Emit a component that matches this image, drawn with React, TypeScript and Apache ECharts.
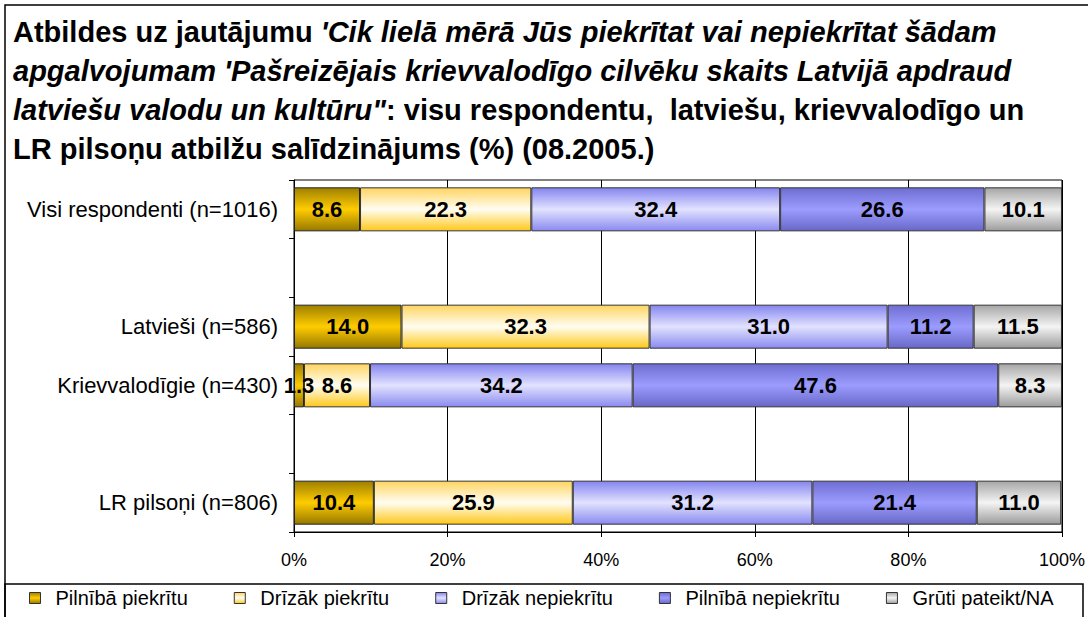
import React, { useEffect, useRef } from "react";
import * as echarts from "echarts";

const categories = [
  "Visi respondenti (n=1016)",
  " ",
  "Latvieši (n=586)",
  "Krievvalodīgie (n=430)",
  "  ",
  "LR pilsoņi (n=806)",
];

const seriesNames = [
  "Pilnībā piekrītu",
  "Drīzāk piekrītu",
  "Drīzāk nepiekrītu",
  "Pilnībā nepiekrītu",
  "Grūti pateikt/NA",
];

const fullyAgree = [8.6, null, 14.0, 1.3, null, 10.4];
const ratherAgree = [22.3, null, 32.3, 8.6, null, 25.9];
const ratherDisagree = [32.4, null, 31.0, 34.2, null, 31.2];
const fullyDisagree = [26.6, null, 11.2, 47.6, null, 21.4];
const hardToSay = [10.1, null, 11.5, 8.3, null, 11.0];

const xTicks = [0, 20, 40, 60, 80, 100];

const grad = (a: string, m: string, b: string) =>
  new echarts.graphic.LinearGradient(0, 0, 0, 1, [
    { offset: 0, color: a },
    { offset: 0.5, color: m },
    { offset: 1, color: b },
  ]);

const fills = [
  grad("#9E8000", "#FFCC00", "#967800"),
  grad("#FFD560", "#FFFDF2", "#FFC81A"),
  grad("#8585F0", "#E2E2FF", "#8A8AF0"),
  grad("#6E6ED2", "#9C9CFF", "#6868C8"),
  grad("#A6A6A6", "#F4F4F4", "#9C9C9C"),
];

const allData = [fullyAgree, ratherAgree, ratherDisagree, fullyDisagree, hardToSay];

export default function App() {
  const ref = useRef<HTMLDivElement>(null);
  useEffect(() => {
    if (!ref.current) return;
    const chart = echarts.init(ref.current, null, { renderer: "svg" });
    const font = "'Liberation Sans', Arial, sans-serif";
    const tfs = 29;
    chart.setOption({
      animation: false,
      backgroundColor: "#fff",
      textStyle: { fontFamily: font },
      title: {
        left: 13,
        top: 12,
        padding: 0,
        text:
          "{b|Atbildes uz jautājumu }{bi|'Cik lielā mērā Jūs piekrītat vai nepiekrītat šādam}\n" +
          "{bi|apgalvojumam 'Pašreizējais krievvalodīgo cilvēku skaits Latvijā apdraud}\n" +
          "{bi|latviešu valodu un kultūru\"}{b|: visu respondentu,  latviešu, krievvalodīgo un}\n" +
          "{b|LR pilsoņu atbilžu salīdzinājums (%) (08.2005.)}",
        textStyle: {
          rich: {
            b: { fontFamily: font, fontSize: tfs, fontWeight: "bold", color: "#000", lineHeight: 39 },
            bi: { fontFamily: font, fontSize: tfs, fontWeight: "bold", fontStyle: "italic", color: "#000", lineHeight: 39 },
          },
        },
      },
      grid: {
        left: 294,
        top: 180,
        width: 773,
        height: 352,
        show: true,
        borderColor: "#000",
        borderWidth: 1,
        backgroundColor: "#fff",
      },
      legend: {
        left: 29,
        top: 588,
        padding: 0,
        icon: "rect",
        itemWidth: 11,
        itemHeight: 11,
        itemGap: 46,
        itemStyle: { borderColor: "#333", borderWidth: 1 },
        textStyle: { fontFamily: font, fontSize: 20, color: "#000", padding: [0, 0, 0, 10] },
        data: seriesNames,
      },
      xAxis: {
        type: "value",
        min: 0,
        max: 100,
        interval: 20,
        axisLine: { show: true, lineStyle: { color: "#000", width: 1 } },
        axisTick: { show: true, length: 5, lineStyle: { color: "#000" } },
        splitLine: { show: true, lineStyle: { color: "#000", width: 1 } },
        axisLabel: {
          fontFamily: font,
          fontSize: 18,
          color: "#000",
          margin: 19,
          formatter: (v: number) => (xTicks.includes(v) ? v + "%" : ""),
        },
      },
      yAxis: {
        type: "category",
        inverse: true,
        data: categories,
        axisLine: { show: true, lineStyle: { color: "#000", width: 1 } },
        axisTick: { show: true, length: 5, lineStyle: { color: "#000" } },
        axisLabel: { fontFamily: font, fontSize: 22, color: "#000", margin: 16 },
      },
      series: allData.map((d, i) => ({
        name: seriesNames[i],
        type: "bar",
        stack: "total",
        barWidth: 44,
        data: d,
        itemStyle: { color: fills[i], borderColor: i === 0 ? "#222" : "#333", borderWidth: 1 },
        label: {
          show: true,
          position: "inside",
          fontFamily: font,
          fontSize: 22,
          fontWeight: "bold",
          color: "#000",
          formatter: (p: any) => (p.value == null ? "" : Number(p.value).toFixed(1)),
        },
      })),
      graphic: [
        {
          type: "rect",
          z: 100,
          silent: true,
          shape: { x: 5, y: 5, width: 1200, height: 800 },
          style: { fill: "none", stroke: "#000", lineWidth: 1.5 },
        },
        {
          type: "rect",
          z: -1,
          silent: true,
          shape: { x: 5, y: 584, width: 1078, height: 100 },
          style: { fill: "none", stroke: "#000", lineWidth: 1.5 },
        },
      ],
    });
    return () => chart.dispose();
  }, []);
  return (
    <div
      ref={ref}
      style={{ position: "fixed", left: 0, top: 0, width: 1088, height: 617 }}
    />
  );
}
